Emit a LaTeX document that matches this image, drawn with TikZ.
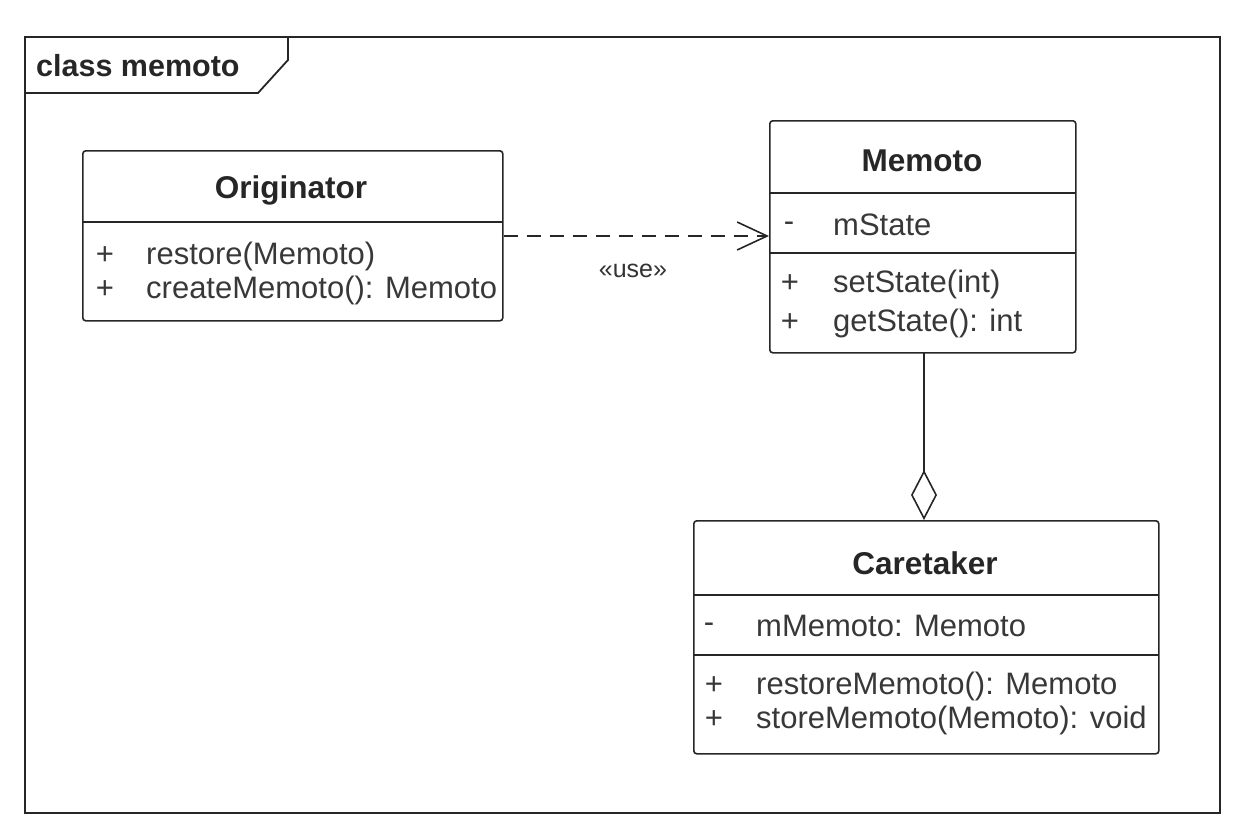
\documentclass[tikz,border=0pt]{standalone}
\usepackage{fontspec}
\setmainfont{Liberation Sans}
\usetikzlibrary{arrows.meta}
\begin{document}
\begin{tikzpicture}[x=1pt,y=-1pt,
  box/.style={draw=black!85, line width=1.6pt, rounded corners=3pt, anchor=north west, inner sep=0pt},
  sep/.style={draw=black!85, line width=1.6pt},
  title/.style={font=\fontsize{31.5}{36}\selectfont\bfseries, text=black!85, inner sep=0pt},
  member/.style={font=\fontsize{31}{36}\selectfont, text=black!78, inner sep=0pt, anchor=west},
  vis/.style={font=\fontsize{31}{36}\selectfont, text=black!78, inner sep=0pt}
]
\useasboundingbox (0,0) rectangle (1258,836);
% frame
\draw[line width=1.8pt, draw=black!85] (25,37) rectangle (1220,813);
\draw[line width=1.8pt, draw=black!85] (25,93) -- (258,93) -- (288,60) -- (288,37);
\node[font=\fontsize{30.5}{34}\selectfont\bfseries, text=black!85, anchor=west, inner sep=0pt] (frametitle) at (36,66) {class memoto};

% Originator
\node[box, minimum width=420pt, minimum height=170pt] (orig) at (82,150) {};
\draw[sep] (82,222) -- (502,222);
\node[title] (origT) at (291,190) {Originator};
\node[vis] (o1v) at (105,256) {+};
\node[member] (o1) at (146,256) {restore(Memoto)};
\node[vis] (o2v) at (105,290) {+};
\node[member] (o2) at (146,290) {createMemoto(): Memoto};

% Memoto
\node[box, minimum width=306pt, minimum height=232pt] (mem) at (769,120) {};
\draw[sep] (769,193) -- (1075,193);
\draw[sep] (769,253) -- (1075,253);
\node[title] (memT) at (922,161) {Memoto};
\node[vis] (m1v) at (789,227) {-};
\node[member] (m1) at (833,225) {mState};
\node[vis] (m2v) at (790,284) {+};
\node[member] (m2) at (833,284) {setState(int)};
\node[vis] (m3v) at (790,323) {+};
\node[member] (m3) at (833,323) {getState(): int};

% Caretaker
\node[box, minimum width=465pt, minimum height=233pt] (care) at (693,520) {};
\draw[sep] (693,595) -- (1158,595);
\draw[sep] (693,655) -- (1158,655);
\node[title] (careT) at (925,563) {Caretaker};
\node[vis] (c1v) at (709,628) {-};
\node[member] (c1) at (756,626) {mMemoto: Memoto};
\node[vis] (c2v) at (714,686) {+};
\node[member] (c2) at (756,686) {restoreMemoto(): Memoto};
\node[vis] (c3v) at (714,720) {+};
\node[member] (c3) at (756,720) {storeMemoto(Memoto): void};

% dependency
\coordinate (depS) at (orig.east |- 0,236);
\coordinate (depE) at (mem.west |- 0,236);
\draw[line width=1.6pt, draw=black!85, dash pattern=on 14pt off 9pt,
  -{Straight Barb[length=30pt, width=28pt, line width=1.6pt]}] (depS) -- (depE);
\node[font=\fontsize{25}{28}\selectfont, text=black!80, inner sep=0pt] (use) at (633,271) {«use»};

% aggregation
\coordinate (aggS) at (924,352);
\coordinate (aggE) at (924,520);
\draw[line width=1.6pt, draw=black!85,
  -{Diamond[open, length=50pt, width=26pt, line width=1.6pt]}] (aggS) -- (aggE);
\end{tikzpicture}
\end{document}
